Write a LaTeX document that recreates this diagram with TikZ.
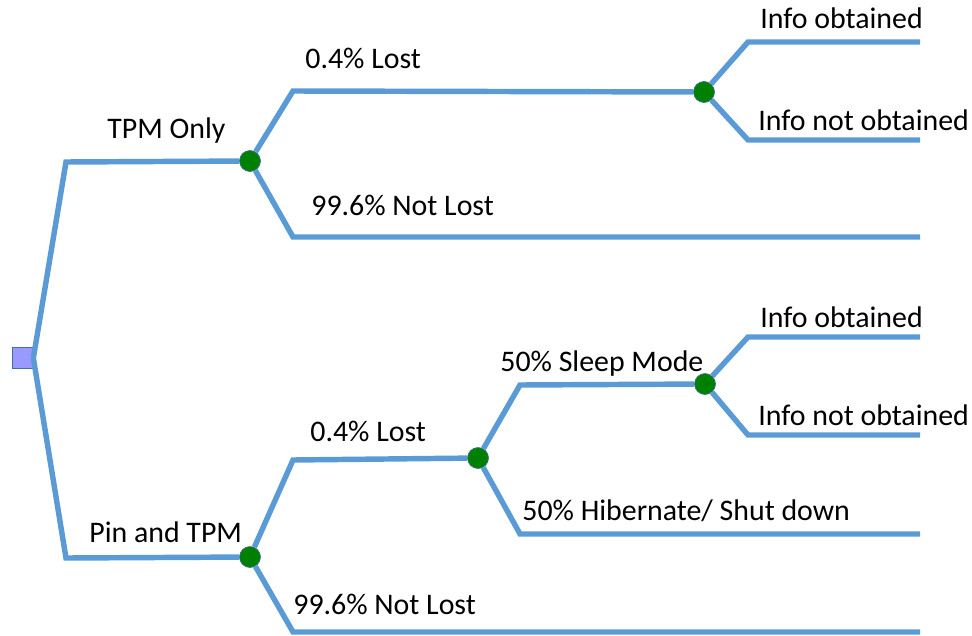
\documentclass[tikz,border=0pt]{standalone}
\usepackage{fontspec}
\setmainfont{Carlito}
\definecolor{branchblue}{HTML}{5B9BD5}
\definecolor{chancegreen}{HTML}{008000}
\definecolor{decisionfill}{HTML}{9999FF}
\definecolor{nodeedge}{HTML}{41719C}

\begin{document}
\begin{tikzpicture}[x=0.02cm,y=-0.02cm]
\tikzstyle{decision}=[rectangle,draw=nodeedge,fill=decisionfill,minimum size=0.42cm,inner sep=0pt]
\tikzstyle{chance}=[circle,draw=nodeedge,fill=chancegreen,minimum size=0.42cm,inner sep=0pt]
\tikzstyle{branch}=[draw=branchblue,line width=3.1pt]
\tikzstyle{lbl}=[anchor=base west,inner sep=0pt,font=\fontsize{17}{20}\selectfont]
\useasboundingbox (0,0) rectangle (972,635);
% decision and chance nodes
\node [decision] (root) at (22.5,358) {};
\node [chance] (tpm) at (250,161) {};
\node [chance] (tpmlost) at (704,92) {};
\node [chance] (pin) at (250,557) {};
\node [chance] (pinlost) at (478,458) {};
\node [chance] (sleep) at (705,384) {};
% corners and leaves
\coordinate (k1) at (66,162);
\coordinate (k2) at (66,558);
\coordinate (a1) at (293,91);
\coordinate (a2) at (293,237);
\coordinate (a3) at (920,237);
\coordinate (b1) at (748,42);
\coordinate (b2) at (920,42);
\coordinate (b3) at (748,140);
\coordinate (b4) at (920,140);
\coordinate (p1) at (293,460);
\coordinate (p2) at (293,632);
\coordinate (p3) at (920,632);
\coordinate (q1) at (520,385);
\coordinate (q2) at (520,534);
\coordinate (q3) at (920,534);
\coordinate (s1) at (748,337);
\coordinate (s2) at (920,337);
\coordinate (s3) at (748,435);
\coordinate (s4) at (920,435);
% branches
\draw [branch] (root.east) -- (k1) -- (tpm);
\draw [branch] (root.east) -- (k2) -- (pin);
\draw [branch] (tpm) -- (a1) -- (tpmlost);
\draw [branch] (tpm) -- (a2) -- (a3);
\draw [branch] (tpmlost) -- (b1) -- (b2);
\draw [branch] (tpmlost) -- (b3) -- (b4);
\draw [branch] (pin) -- (p1) -- (pinlost);
\draw [branch] (pin) -- (p2) -- (p3);
\draw [branch] (pinlost) -- (q1) -- (sleep);
\draw [branch] (pinlost) -- (q2) -- (q3);
\draw [branch] (sleep) -- (s1) -- (s2);
\draw [branch] (sleep) -- (s3) -- (s4);
% branch labels
\node [lbl] (ltpm) at (107,138) {TPM Only};
\node [lbl] (lpin) at (89,542) {Pin and TPM};
\node [lbl] (llost1) at (305,69) {0.4\% Lost};
\node [lbl] (lkept1) at (311,215) {99.6\% Not Lost};
\node [lbl] (lgot1) at (760,29) {Info obtained};
\node [lbl] (lnot1) at (758,130) {Info not obtained};
\node [lbl] (llost2) at (310,441) {0.4\% Lost};
\node [lbl] (lkept2) at (293,614) {99.6\% Not Lost};
\node [lbl] (lsleep) at (500,371) {50\% Sleep Mode};
\node [lbl] (lhib) at (522,520) {50\% Hibernate/ Shut down};
\node [lbl] (lgot2) at (760,327) {Info obtained};
\node [lbl] (lnot2) at (758,425) {Info not obtained};
\end{tikzpicture}
\end{document}
